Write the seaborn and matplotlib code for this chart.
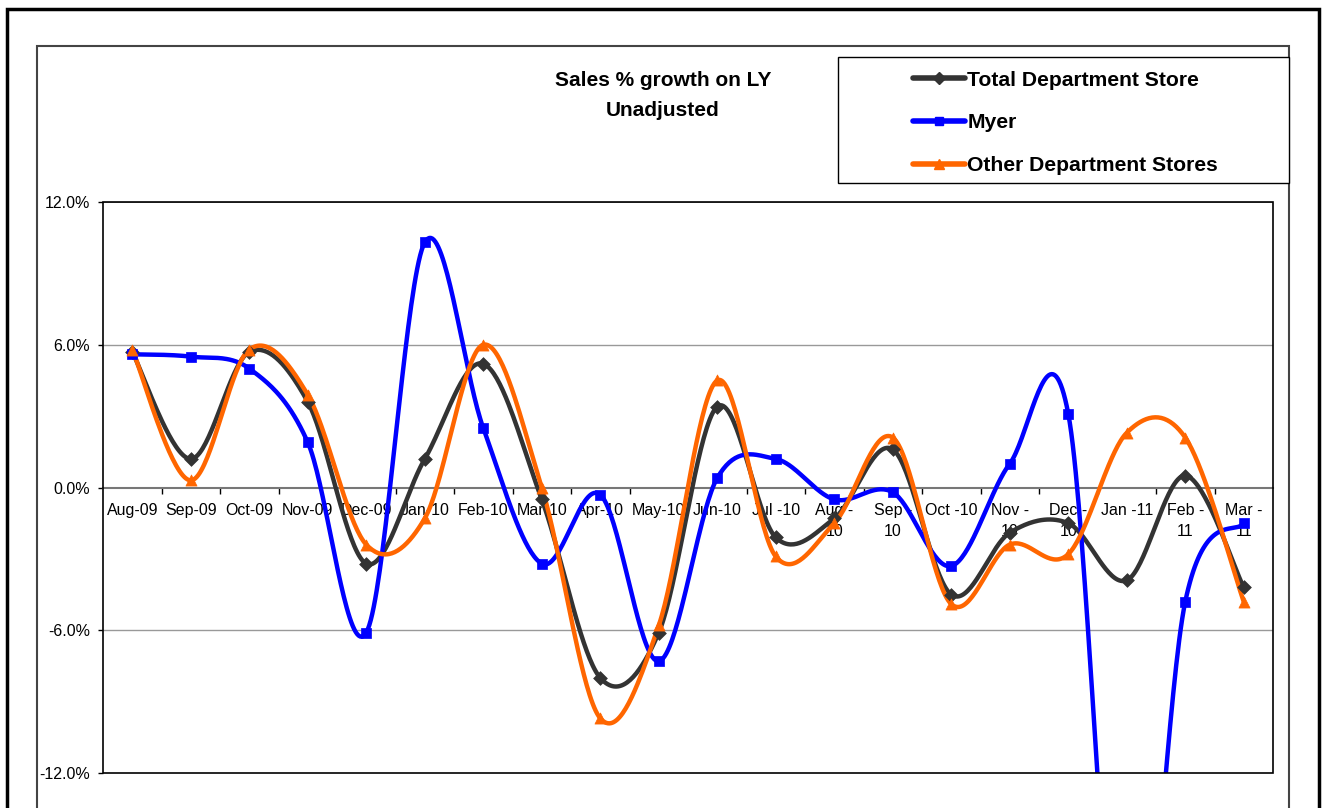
import matplotlib
matplotlib.use("Agg")
import matplotlib.pyplot as plt
import matplotlib.patches as mpatches
from matplotlib.lines import Line2D
import seaborn as sns
import numpy as np
import pandas as pd

# data (% growth on last year)
months = ["Aug-09", "Sep-09", "Oct-09", "Nov-09", "Dec-09", "Jan-10", "Feb-10",
          "Mar-10", "Apr-10", "May-10", "Jun-10", "Jul -10", "Aug -\n10",
          "Sep -\n10", "Oct -10", "Nov -\n10", "Dec -\n10", "Jan -11",
          "Feb -\n11", "Mar -\n11"]
total_dept = [5.7, 1.2, 5.7, 3.6, -3.2, 1.2, 5.2, -0.5, -8.0, -6.1,
              3.4, -2.1, -1.3, 1.6, -4.5, -1.9, -1.5, -3.9, 0.5, -4.2]
myer = [5.6, 5.5, 5.0, 1.9, -6.1, 10.3, 2.5, -3.2, -0.3, -7.3,
        0.4, 1.2, -0.5, -0.2, -3.3, 1.0, 3.1, -25.0, -4.8, -1.5]
other_dept = [5.8, 0.3, 5.8, 3.9, -2.4, -1.3, 6.0, 0.0, -9.7, -5.8,
              4.5, -2.9, -1.5, 2.1, -4.9, -2.4, -2.8, 2.3, 2.1, -4.8]

series = [
    ("Total Department Store", total_dept, "#333333", "D", 7),
    ("Myer", myer, "#0000FF", "s", 7),
    ("Other Department Stores", other_dept, "#FF6600", "^", 8),
]


def smooth(y, steps=40):
    # excel style smoothed line: bezier through the points, handles at 1/6
    y = np.asarray(y, dtype=float)
    x = np.arange(len(y), dtype=float)
    px = np.concatenate([[x[0]], x, [x[-1]]])
    py = np.concatenate([[y[0]], y, [y[-1]]])
    xs, ys = [], []
    t = np.linspace(0, 1, steps)
    for i in range(1, len(px) - 2):
        p0 = np.array([px[i], py[i]])
        p3 = np.array([px[i + 1], py[i + 1]])
        c1 = p0 + (np.array([px[i + 1], py[i + 1]]) - np.array([px[i - 1], py[i - 1]])) / 6
        c2 = p3 - (np.array([px[i + 2], py[i + 2]]) - np.array([px[i], py[i]])) / 6
        pts = ((1 - t) ** 3)[:, None] * p0 + (3 * (1 - t) ** 2 * t)[:, None] * c1 \
            + (3 * (1 - t) * t ** 2)[:, None] * c2 + (t ** 3)[:, None] * p3
        xs.extend(pts[:, 0])
        ys.extend(pts[:, 1])
    return np.array(xs), np.array(ys)


sns.set_theme(style="white")
plt.rcParams["font.family"] = ["Liberation Sans", "DejaVu Sans"]
plt.rcParams["text.color"] = "black"
plt.rcParams["xtick.color"] = "black"
plt.rcParams["ytick.color"] = "black"
plt.rcParams["xtick.labelcolor"] = "black"
plt.rcParams["ytick.labelcolor"] = "black"

W, H = 1327, 808
fig = plt.figure(figsize=(W / 100, H / 100), dpi=100)
ax = fig.add_axes([103 / W, 1 - 773 / H, (1273 - 103) / W, (773 - 202) / H])

# outer frames
fig.patches.append(mpatches.Rectangle((7 / W, -0.1), (1319 - 7) / W, 1.1 - 9 / H,
                                      transform=fig.transFigure, fill=False,
                                      lw=2.5, ec="black"))
fig.patches.append(mpatches.Rectangle((37 / W, -0.1), (1289 - 37) / W, 1.1 - 46 / H,
                                      transform=fig.transFigure, fill=False,
                                      lw=1.5, ec="#444444"))

x = np.arange(len(months))
for name, vals, col, mk, ms in series:
    sx, sy = smooth(vals)
    sns.lineplot(x=sx, y=sy, sort=False, estimator=None, color=col, lw=3.2,
                 ax=ax, zorder=3)
    sns.scatterplot(x=x, y=vals, marker=mk, s=ms ** 2, color=col, edgecolor=col,
                    linewidth=0.5, ax=ax, zorder=4)

ax.set_xlim(-0.5, len(months) - 0.5)
ax.set_ylim(-12, 12)

# gridlines and axis line at zero
for g in [-6, 6]:
    ax.axhline(g, color="#999999", lw=1, zorder=1)
ax.axhline(12, color="#888888", lw=1.2, zorder=1)

for s in ["top", "right", "left"]:
    ax.spines[s].set_visible(False)
ax.spines["bottom"].set_position(("data", 0))
ax.spines["bottom"].set_color("#777777")
ax.spines["bottom"].set_linewidth(1.5)
ax.spines["bottom"].set_zorder(2)
ax.add_patch(mpatches.Rectangle((0, 0), 1, 1, transform=ax.transAxes, fill=False,
                                lw=1.2, ec="black", zorder=5, clip_on=False))

ax.set_xticks(x)
ax.set_xticklabels(months, fontsize=11.5, linespacing=1.5)
ax.set_xticks(np.arange(0.5, len(months) - 1, 1), minor=True)
ax.tick_params(axis="x", which="major", length=0, pad=11)
ax.tick_params(axis="x", which="minor", length=4.3, width=1, color="black",
               direction="out", bottom=True)

yt = [-12, -6, 0, 6, 12]
ax.set_yticks(yt)
ax.set_yticklabels([f"{v:.1f}%" for v in yt], fontsize=11.5)
ax.tick_params(axis="y", length=3.6, width=1, color="black", direction="out",
               left=True, pad=5.8)
ax.set_xlabel("")
ax.set_ylabel("")

fig.text(663 / W, 1 - 80 / H, "Sales % growth on LY", ha="center", va="center",
         fontsize=15, fontweight="bold")
fig.text(663 / W, 1 - 110 / H, "Unadjusted", ha="center", va="center",
         fontsize=15, fontweight="bold")

# legend box
fig.patches.append(mpatches.Rectangle((838 / W, 1 - 183 / H), (1289 - 838) / W,
                                      (183 - 57) / H, transform=fig.transFigure,
                                      fill=True, fc="white", lw=1, ec="black"))
handles = [Line2D([0], [0], color=col, lw=4, marker=mk, markersize=ms - 1,
                  markeredgecolor=col) for _, _, col, mk, ms in series]
fig.legend(handles, [s[0] for s in series], loc="upper left",
           bbox_to_anchor=(902 / W, 1 - 60 / H), frameon=False, borderpad=0,
           handlelength=2.5, handletextpad=0.1, labelspacing=1.13,
           prop={"size": 15.2, "weight": "bold"})

fig.savefig("out.png", dpi=100)
